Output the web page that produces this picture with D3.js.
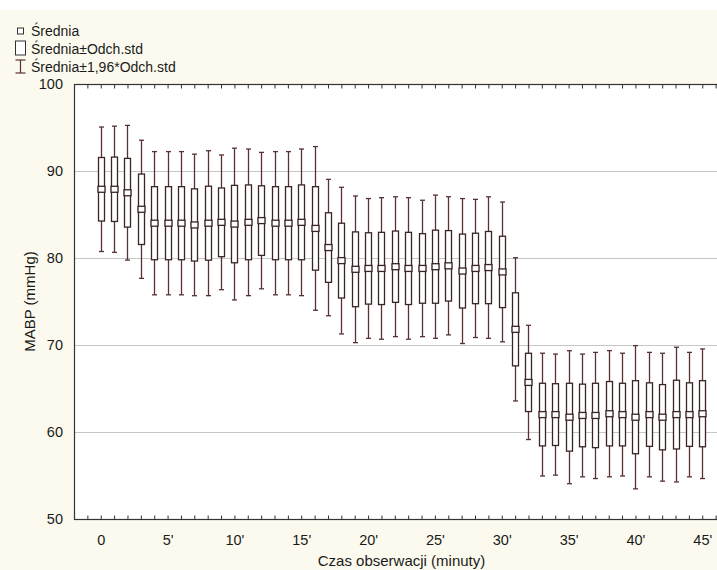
<!DOCTYPE html>
<html>
<head>
<meta charset="utf-8">
<script src="https://cdn.jsdelivr.net/npm/d3@7"></script>
<style>
  html, body { margin: 0; padding: 0; background: #fcfaee; }
  svg { display: block; }
  text { font-family: "Liberation Sans", Arial, sans-serif; fill: #1a1a1a; }
</style>
</head>
<body>
<svg id="chart" width="717" height="570"></svg>
<script>
// Observation minutes (categories)
const minutes = d3.range(0, 46);

// Mean MABP (mmHg) per minute
const means = [87.9, 87.9, 87.5, 85.6, 84.0, 84.0, 84.0, 83.8, 84.0, 84.1,
               83.9, 84.1, 84.3, 84.0, 84.0, 84.1, 83.4, 81.2, 79.7, 78.7,
               78.8, 78.8, 79.0, 78.8, 78.8, 79.0, 79.1, 78.5, 78.8, 78.9,
               78.4, 71.8, 65.7, 62.0, 62.0, 61.7, 61.9, 61.9, 62.1, 62.0,
               61.7, 62.0, 61.7, 62.0, 62.0, 62.1];

// Standard deviation per minute
const sds = [3.65, 3.7, 3.95, 4.05, 4.2, 4.2, 4.2, 4.15, 4.25, 3.95,
             4.45, 4.3, 4.0, 4.2, 4.2, 4.3, 4.8, 4.0, 4.3, 4.3,
             4.1, 4.15, 4.1, 4.15, 4.0, 4.2, 4.05, 4.25, 4.05, 4.15,
             4.1, 4.2, 3.35, 3.6, 3.55, 3.9, 3.6, 3.7, 3.7, 3.6,
             4.2, 3.65, 3.75, 3.95, 3.65, 3.8];

// Axis tick values and labels
const xTickValues = [0, 5, 10, 15, 20, 25, 30, 35, 40, 45];
const xTickLabels = ["0", "5'", "10'", "15'", "20'", "25'", "30'", "35'", "40'", "45'"];
const yTickValues = [50, 60, 70, 80, 90, 100];
const yGridValues = [60, 70, 80, 90];

const legendItems = ["Średnia", "Średnia±Odch.std", "Średnia±1,96*Odch.std"];

const Z = 1.96;
const data = minutes.map((m, i) => ({ m, mean: means[i], sd: sds[i] }));

const svg = d3.select("#chart");
const W = 717, H = 570;
const plot = { left: 74, top: 84, right: 729, bottom: 519 };

const x = d3.scaleLinear().domain([-2, 47]).range([plot.left, plot.right]);
const y = d3.scaleLinear().domain([50, 100]).range([plot.bottom, plot.top]);

// Background
svg.append("rect").attr("width", W).attr("height", H).attr("fill", "#fcfaee");
svg.append("rect").attr("width", W).attr("height", 10).attr("fill", "#ffffff");
svg.append("rect")
  .attr("x", plot.left).attr("y", plot.top)
  .attr("width", plot.right - plot.left).attr("height", plot.bottom - plot.top)
  .attr("fill", "#ffffff");

// Horizontal grid lines
svg.append("g").selectAll("line").data(yGridValues).join("line")
  .attr("x1", plot.left).attr("x2", plot.right)
  .attr("y1", d => Math.round(y(d)) + 0.5).attr("y2", d => Math.round(y(d)) + 0.5)
  .attr("stroke", "#c6c6c6").attr("stroke-width", 1);

// Bottom axis: inward ticks at each minute, labels every 5 minutes
const tickMinutes = d3.range(-1, 47);
const xAxisBottom = d3.axisBottom(x)
  .tickValues(tickMinutes)
  .tickSizeInner(-4).tickSizeOuter(0)
  .tickFormat(d => { const k = xTickValues.indexOf(d); return k >= 0 ? xTickLabels[k] : ""; });
const gxb = svg.append("g").attr("transform", `translate(0,${plot.bottom + 0.5})`).call(xAxisBottom);
gxb.select(".domain").remove();
gxb.selectAll(".tick line").attr("stroke", "#333");
gxb.selectAll(".tick text").attr("y", 15).attr("font-size", 14.5)
  .attr("font-family", "Liberation Sans, Arial, sans-serif").attr("fill", "#1a1a1a");

// Top axis: inward ticks, no labels
const xAxisTop = d3.axisTop(x).tickValues(tickMinutes).tickSizeInner(-4).tickSizeOuter(0).tickFormat("");
const gxt = svg.append("g").attr("transform", `translate(0,${plot.top + 0.5})`).call(xAxisTop);
gxt.select(".domain").remove();
gxt.selectAll(".tick line").attr("stroke", "#333");

// Left axis labels
const yAxis = d3.axisLeft(y).tickValues(yTickValues).tickSize(0).tickPadding(11);
const gy = svg.append("g").attr("transform", `translate(${plot.left},0)`).call(yAxis);
gy.select(".domain").remove();
gy.selectAll(".tick text").attr("font-size", 14.5)
  .attr("font-family", "Liberation Sans, Arial, sans-serif").attr("fill", "#1a1a1a");

// Plot frame
svg.append("rect")
  .attr("x", plot.left + 0.5).attr("y", plot.top + 0.5)
  .attr("width", plot.right - plot.left).attr("height", plot.bottom - plot.top)
  .attr("fill", "none").attr("stroke", "#333").attr("stroke-width", 1.2);

// Box-and-whisker marks
const whiskerColor = "#583232";
const boxColor = "#3a2424";
const boxW = 6, capW = 5, meanW = 7, meanH = 6;

const g = svg.append("g");
const items = g.selectAll("g.item").data(data).join("g").attr("class", "item")
  .attr("transform", d => `translate(${Math.round(x(d.m)) + 0.5},0)`);

items.append("line")
  .attr("x1", 0).attr("x2", 0)
  .attr("y1", d => y(d.mean + Z * d.sd)).attr("y2", d => y(d.mean - Z * d.sd))
  .attr("stroke", whiskerColor).attr("stroke-width", 1.3);
items.append("line")
  .attr("x1", -capW / 2).attr("x2", capW / 2)
  .attr("y1", d => y(d.mean + Z * d.sd)).attr("y2", d => y(d.mean + Z * d.sd))
  .attr("stroke", whiskerColor).attr("stroke-width", 1.3);
items.append("line")
  .attr("x1", -capW / 2).attr("x2", capW / 2)
  .attr("y1", d => y(d.mean - Z * d.sd)).attr("y2", d => y(d.mean - Z * d.sd))
  .attr("stroke", whiskerColor).attr("stroke-width", 1.3);
items.append("rect")
  .attr("x", -boxW / 2).attr("width", boxW)
  .attr("y", d => y(d.mean + d.sd)).attr("height", d => y(d.mean - d.sd) - y(d.mean + d.sd))
  .attr("fill", "#ffffff").attr("stroke", boxColor).attr("stroke-width", 1.3);
items.append("rect")
  .attr("x", -meanW / 2).attr("width", meanW)
  .attr("y", d => y(d.mean) - meanH / 2).attr("height", meanH)
  .attr("fill", "#ffffff").attr("stroke", boxColor).attr("stroke-width", 1.3);

// Axis titles
svg.append("text")
  .attr("x", (plot.left + plot.right) / 2).attr("y", 566)
  .attr("text-anchor", "middle").attr("font-size", 15)
  .text("Czas obserwacji (minuty)");
svg.append("text")
  .attr("transform", `translate(35,${(plot.top + plot.bottom) / 2}) rotate(-90)`)
  .attr("text-anchor", "middle").attr("font-size", 15)
  .text("MABP (mmHg)");

// Legend
const lg = svg.append("g");
const rows = [36, 54, 72];
const iconX = 20.5;
lg.append("rect").attr("x", iconX - 3).attr("y", rows[0] - 8).attr("width", 6).attr("height", 6)
  .attr("fill", "#fff").attr("stroke", "#333").attr("stroke-width", 1);
lg.append("rect").attr("x", iconX - 5).attr("y", rows[1] - 13).attr("width", 10).attr("height", 14)
  .attr("fill", "#fff").attr("stroke", "#333").attr("stroke-width", 1);
lg.append("line").attr("x1", iconX).attr("x2", iconX).attr("y1", rows[2] - 12).attr("y2", rows[2] + 1)
  .attr("stroke", whiskerColor).attr("stroke-width", 1.2);
lg.append("line").attr("x1", iconX - 5).attr("x2", iconX + 5).attr("y1", rows[2] - 12).attr("y2", rows[2] - 12)
  .attr("stroke", whiskerColor).attr("stroke-width", 1.2);
lg.append("line").attr("x1", iconX - 5).attr("x2", iconX + 5).attr("y1", rows[2] + 1).attr("y2", rows[2] + 1)
  .attr("stroke", whiskerColor).attr("stroke-width", 1.2);
lg.selectAll("text").data(legendItems).join("text")
  .attr("x", 31).attr("y", (d, i) => rows[i])
  .attr("font-size", 14)
  .text(d => d);
</script>
</body>
</html>
